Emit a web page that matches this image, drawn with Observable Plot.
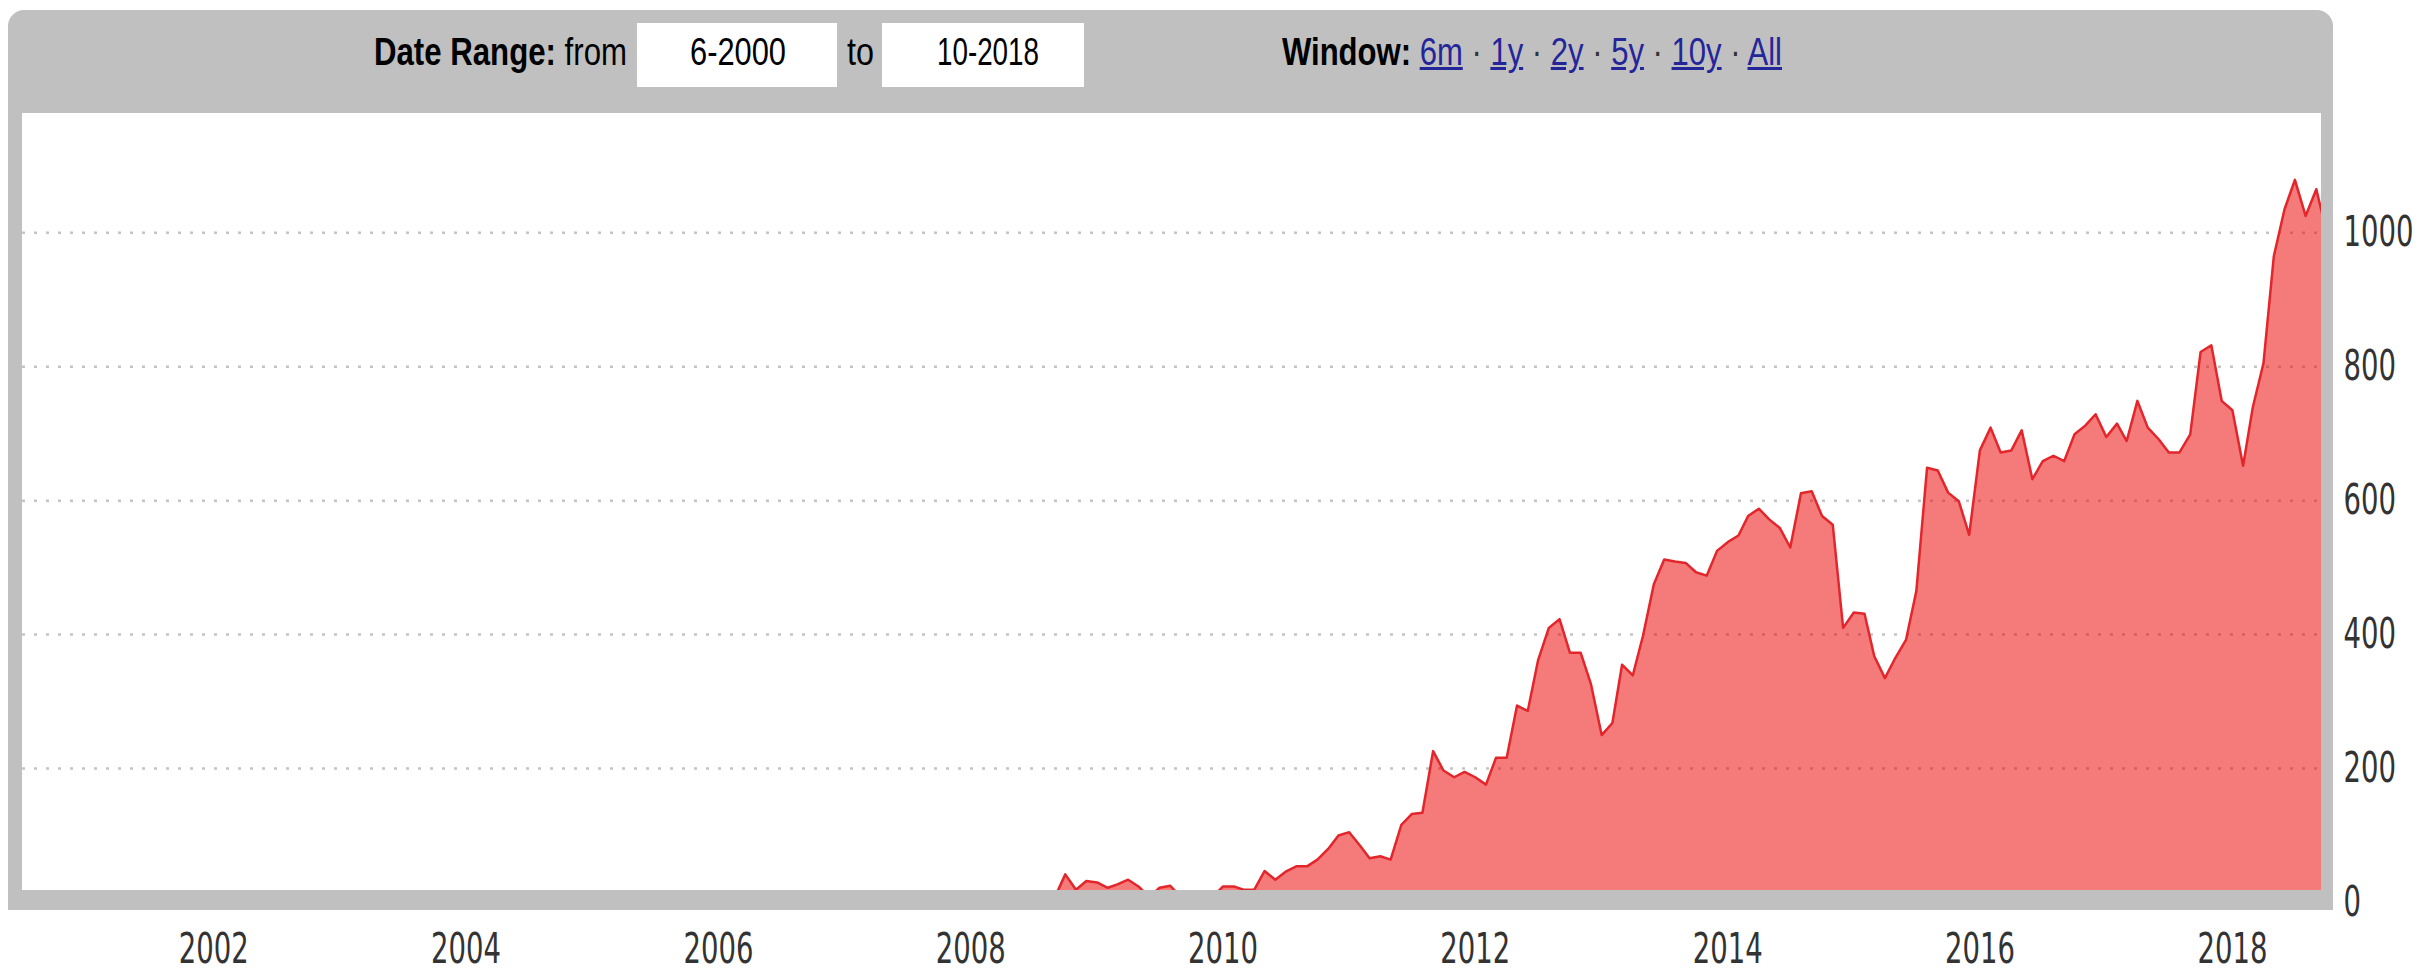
<!DOCTYPE html>
<html>
<head>
<meta charset="utf-8">
<script src="https://cdn.jsdelivr.net/npm/d3@7"></script>
<script src="https://cdn.jsdelivr.net/npm/@observablehq/plot@0.6"></script>
<style>
html,body{margin:0;padding:0;background:#fff;}
body{position:relative;width:2425px;height:969px;overflow:hidden;}
#frame{position:absolute;left:8px;top:10px;width:2325px;height:900px;background:#c0c0c0;border-radius:16px 16px 5px 5px;z-index:1;}
#inner{position:absolute;left:22px;top:113px;width:2299px;height:777px;background:#fff;z-index:1;}
#chart{position:absolute;left:0;top:0;z-index:2;}
.strip{position:absolute;background:#c0c0c0;z-index:3;}
#sb{left:8px;top:890px;width:2325px;height:20px;border-radius:0 0 5px 5px;}
#sr{left:2321px;top:113px;width:12px;height:797px;}
#sl{left:8px;top:113px;width:14px;height:797px;}
.ht{position:absolute;top:33px;font-family:"Liberation Sans",Arial,sans-serif;font-size:38px;line-height:38px;white-space:nowrap;color:#000;transform-origin:0 50%;z-index:5;}
.box{position:absolute;top:23px;height:64px;background:#fff;z-index:4;}
.ht a{color:#25259a;text-decoration:underline;}
.ht .sep{color:#333;}
#chart svg text{font-family:"DejaVu Sans",sans-serif;font-size:43px;fill:#333;}
</style>
</head>
<body>
<div id="frame"></div>
<div id="inner"></div>
<div id="chart"></div>
<div class="strip" id="sb"></div>
<div class="strip" id="sr"></div>
<div class="strip" id="sl"></div>

<div class="box" style="left:637px;width:200px;"></div>
<div class="box" style="left:882px;width:202px;"></div>
<span class="ht" data-x="374" data-w="253"><b>Date Range:</b> from</span>
<span class="ht" data-x="690" data-w="96">6-2000</span>
<span class="ht" data-x="847" data-w="27">to</span>
<span class="ht" data-x="937" data-w="102">10-2018</span>
<span class="ht" data-x="1282" data-w="500"><b>Window:</b> <a>6m</a> <span class="sep">·</span> <a>1y</a> <span class="sep">·</span> <a>2y</a> <span class="sep">·</span> <a>5y</a> <span class="sep">·</span> <a>10y</a> <span class="sep">·</span> <a>All</a></span>

<script>
// ---- data (monthly, first month = Aug 2008) ----
const firstMonth = [2008, 8];
const values2008 = [0, 8, 42, 19, 32];
const values2009 = [30, 22, 27, 34, 24, 8, 22, 25, 8, 5, 5, 8];
const values2010 = [24, 24, 19, 19, 47, 34, 46, 54, 54, 64, 80, 100];
const values2011 = [105, 85, 66, 69, 64, 116, 132, 134, 226, 197, 187, 195];
const values2012 = [187, 176, 216, 216, 294, 286, 362, 410, 423, 373, 373, 326];
const values2013 = [250, 268, 355, 339, 399, 475, 512, 509, 507, 493, 488, 525];
const values2014 = [538, 548, 577, 588, 572, 559, 530, 611, 614, 577, 564, 410];
const values2015 = [433, 431, 368, 335, 365, 392, 465, 649, 645, 612, 599, 549];
const values2016 = [675, 709, 672, 675, 705, 632, 659, 667, 659, 699, 712, 729];
const values2017 = [695, 715, 689, 749, 709, 692, 672, 672, 699, 822, 832, 749];
const values2018 = [735, 652, 739, 805, 965, 1035, 1079, 1025, 1065, 1000];

const xTickYears = [2002, 2004, 2006, 2008, 2010, 2012, 2014, 2016, 2018];
const yTicks = [0, 200, 400, 600, 800, 1000];
const yGrid = [200, 400, 600, 800, 1000];
const domainStart = [2000, 6, 26];
const domainEnd = [2018, 9, 16];

const allValues = [].concat(values2008, values2009, values2010, values2011, values2012,
  values2013, values2014, values2015, values2016, values2017, values2018);
const start = new Date(Date.UTC(firstMonth[0], firstMonth[1] - 1, 1));
const data = allValues.map((v, i) => ({date: d3.utcMonth.offset(start, i), value: v}));

const svg = Plot.plot({
  width: 2425,
  height: 969,
  marginLeft: 22,
  marginRight: 104,
  marginTop: 113,
  marginBottom: 67,
  style: {background: "transparent", maxWidth: "none", overflow: "visible"},
  x: {
    type: "utc",
    domain: [new Date(Date.UTC(domainStart[0], domainStart[1] - 1, domainStart[2])),
             new Date(Date.UTC(domainEnd[0], domainEnd[1] - 1, domainEnd[2]))],
    ticks: xTickYears.map(y => new Date(Date.UTC(y, 0, 1))),
    tickFormat: d3.utcFormat("%Y"),
    tickSize: 0,
    tickPadding: 30,
    label: null
  },
  y: {
    domain: [0, 1178],
    ticks: yTicks,
    tickFormat: d3.format("d"),
    tickSize: 0,
    tickPadding: 22,
    axis: "right",
    label: null
  },
  marks: [
    Plot.ruleY(yGrid, {stroke: "#c4c4c4", strokeWidth: 2.5, strokeDasharray: "3,9"}),
    Plot.areaY(data, {x: "date", y: "value", fill: "rgb(235,0,0)", fillOpacity: 0.52, clip: true}),
    Plot.lineY(data, {x: "date", y: "value", stroke: "#e3262b", strokeWidth: 2.5, clip: true})
  ]
});
document.getElementById("chart").append(svg);

// condense tick labels horizontally to match the reference's narrow glyphs
svg.querySelectorAll("text").forEach(t => {
  const tr = t.getAttribute("transform");
  if (tr) {
    t.setAttribute("transform", tr + " scale(0.64,1)");
  } else {
    const x = t.getAttribute("x") || 0, y = t.getAttribute("y") || 0;
    t.removeAttribute("x"); t.removeAttribute("y");
    t.setAttribute("transform", `translate(${x},${y}) scale(0.64,1)`);
  }
});

// header text: position and condense to target widths
document.querySelectorAll(".ht").forEach(el => {
  el.style.left = el.dataset.x + "px";
  const w = el.getBoundingClientRect().width;
  el.style.transform = `scaleX(${(+el.dataset.w) / w})`;
});
</script>
</body>
</html>
